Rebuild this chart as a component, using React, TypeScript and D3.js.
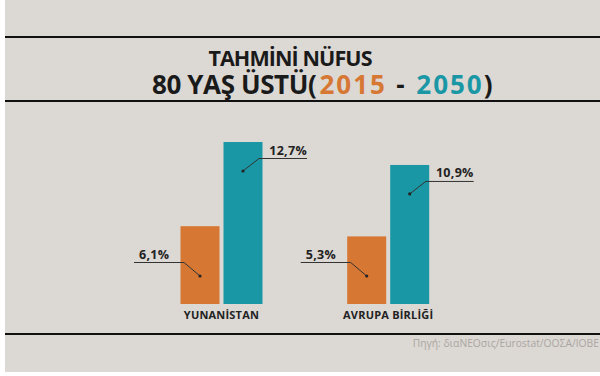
import React from "react";
import * as d3 from "d3";

const categories = ["YUNANİSTAN", "AVRUPA BİRLİĞİ"];
const years = ["2015", "2050"];
const values2015 = [6.1, 5.3];
const values2050 = [12.7, 10.9];
const labels2015 = ["6,1%", "5,3%"];
const labels2050 = ["12,7%", "10,9%"];

const W = 600;
const H = 376;
const BG = "#dcd8d4";
const ORANGE = "#d67733";
const TEAL = "#1a97a5";
const FONT = "'Open Sans', 'Noto Sans', sans-serif";

export default function App() {
  const x0 = d3.scalePoint<string>().domain(categories).range([221.5, 388.2]);
  const x1 = d3.scaleBand<string>().domain(years).range([-41, 41]).paddingInner(0.093);
  const y = d3.scaleLinear().domain([0, 12.7]).range([304, 142]);
  const color = d3.scaleOrdinal<string, string>().domain(years).range([ORANGE, TEAL]);

  const bars: { cat: string; year: string; v: number; label: string; i: number }[] = [];
  categories.forEach((c, i) => {
    bars.push({ cat: c, year: "2015", v: values2015[i], label: labels2015[i], i });
    bars.push({ cat: c, year: "2050", v: values2050[i], label: labels2050[i], i });
  });

  return (
    <svg
      width={W}
      height={H}
      style={{ position: "absolute", left: 0, top: 0, display: "block" }}
      fontFamily={FONT}
    >
      <rect x={0} y={0} width={W} height={H} fill="#ffffff" />
      <rect x={5} y={0} width={W - 5} height={372} fill={BG} />
      {[37, 101, 334].map((ly) => (
        <line key={ly} x1={5} x2={W} y1={ly} y2={ly} stroke="#111" strokeWidth={2.2} />
      ))}
      <text x={290} y={66} textAnchor="middle" fontSize={21.5} fontWeight={700} fill="#1a1a1a" letterSpacing={-0.9}>
        TAHMİNİ NÜFUS
      </text>
      <text x={152} y={94} fontSize={26} fontWeight={700} fill="#1a1a1a" letterSpacing={-0.4}>
        80 YAŞ ÜSTÜ(
        <tspan fill={ORANGE} letterSpacing={2} dx={3}>2015</tspan>
        <tspan letterSpacing={2.5}> - </tspan>
        <tspan fill={TEAL} letterSpacing={2}>2050</tspan>
        <tspan letterSpacing={-0.4}>)</tspan>
      </text>

      {bars.map((b) => {
        const bx = (x0(b.cat) as number) + (x1(b.year) as number);
        const bw = x1.bandwidth();
        const top = y(b.v);
        const cx = bx + bw / 2;
        const left = b.year === "2015";
        const dotY = left ? y(0) - 28 : top + 29;
        const elbowX = left ? cx - 16 : cx + 16;
        const elbowY = dotY - (left ? 13.5 : 12.5);
        const endX = left ? elbowX - 50 : elbowX + 48;
        return (
          <g key={b.cat + b.year}>
            <rect x={bx} y={top} width={bw} height={y(0) - top} fill={color(b.year)} />
            <polyline
              points={`${cx},${dotY} ${elbowX},${elbowY} ${endX},${elbowY}`}
              fill="none"
              stroke="#333"
              strokeWidth={1}
            />
            <circle cx={cx} cy={dotY} r={1.6} fill="#222" />
            <text
              x={left ? endX + 5 : endX}
              y={elbowY - 4}
              textAnchor={left ? "start" : "end"}
              fontSize={12.5}
              fontWeight={700}
              fill="#222"
              letterSpacing={0.3}
            >
              {b.label}
            </text>
          </g>
        );
      })}

      {categories.map((c) => (
        <text key={c} x={x0(c)} y={319} textAnchor="middle" fontSize={11} fontWeight={700} fill="#222" letterSpacing={0.2}>
          {c}
        </text>
      ))}

      <text x={599} y={347} textAnchor="end" fontSize={10.3} fill="#aaa6a2">
        Πηγή: διαΝΕΟσις/Eurostat/ΟΟΣΑ/IOBE
      </text>
    </svg>
  );
}
